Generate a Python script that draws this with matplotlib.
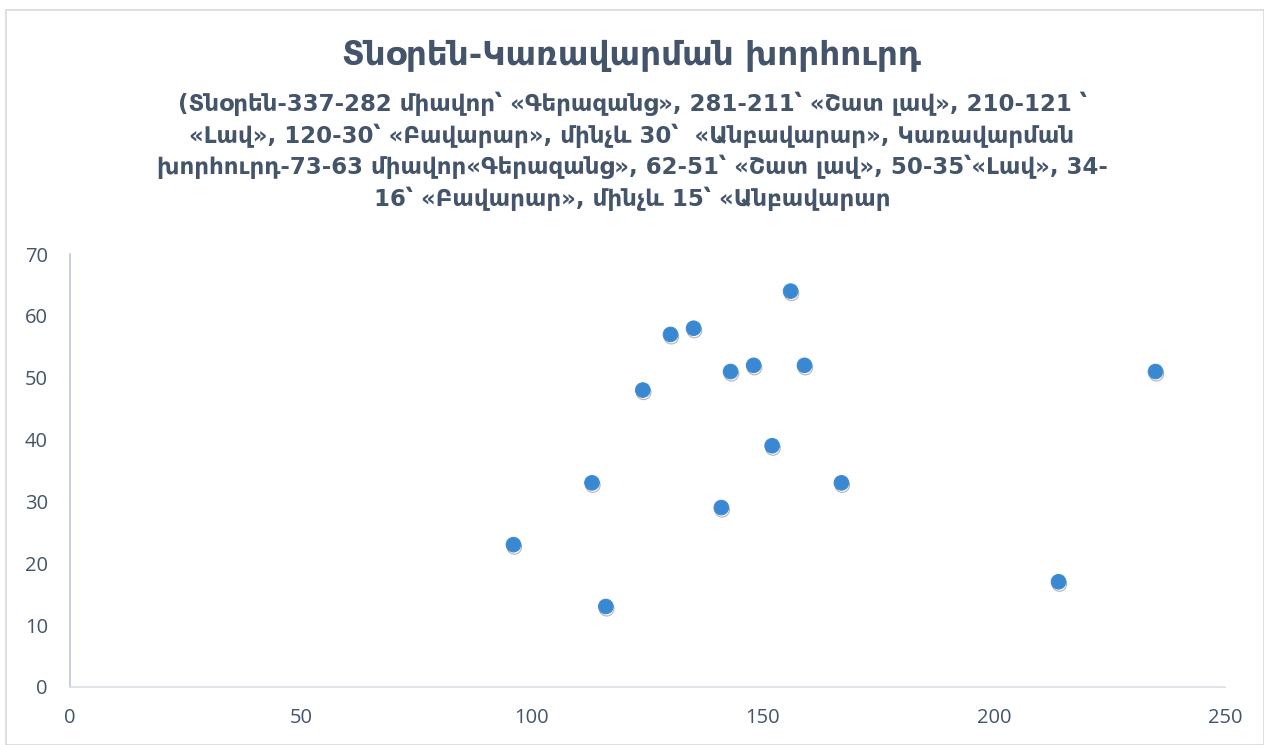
import matplotlib.pyplot as plt
import matplotlib.patheffects as pe
from matplotlib.patches import Rectangle

# scores: x = director score, y = management score
director_score = [96, 113, 116, 124, 130, 135, 141, 143, 148, 152, 156, 159, 167, 214, 235]
management_score = [23, 33, 13, 48, 57, 58, 29, 51, 52, 39, 64, 52, 33, 17, 51]

x_ticks = [0, 50, 100, 150, 200, 250]
y_ticks = [0, 10, 20, 30, 40, 50, 60, 70]

title = "Տնօրեն-Կառավարման խորհուրդ"
subtitle = ("(Տնօրեն-337-282 միավոր՝ «Գերազանց», 281-211՝ «Շատ լավ», 210-121 ՝\n"
            "«Լավ», 120-30՝ «Բավարար», մինչև 30՝  «Անբավարար», Կառավարման\n"
            "խորհուրդ-73-63 միավոր«Գերազանց», 62-51՝ «Շատ լավ», 50-35՝«Լավ», 34-\n"
            "16՝ «Բավարար», մինչև 15՝ «Անբավարար")

text_color = "#44546A"
dot_color = "#3A87D2"

fig = plt.figure(figsize=(12.64, 7.45), dpi=100)
fig.patches.append(Rectangle((0.005, 0.0), 0.995, 0.987, transform=fig.transFigure,
                             fill=False, edgecolor="#D9D9D9", linewidth=1.2))

fig.text(0.5, 0.926, title, ha="center", va="center", fontsize=23.5, fontweight="bold",
         color=text_color, family=["DejaVu Sans"])
fig.text(0.5, 0.797, subtitle, ha="center", va="center", fontsize=16.5, fontweight="bold",
         color=text_color, family=["DejaVu Sans"], linespacing=1.38)

ax = fig.add_axes([0.0554, 0.078, 0.9136, 0.581])
ax.plot(director_score, management_score, linestyle="none", marker="o", markersize=10.5,
        color=dot_color, markeredgecolor="#3F8ED6", markeredgewidth=0.8,
        path_effects=[pe.SimpleLineShadow(offset=(0.6, -1.6), shadow_color="#444444", alpha=0.4),
                      pe.Normal()])

ax.set_xlim(0, 250)
ax.set_ylim(0, 70)
ax.set_xticks(x_ticks)
ax.set_yticks(y_ticks)
ax.tick_params(length=0, labelsize=14.5, colors=text_color)
ax.tick_params(axis="y", pad=16)
ax.tick_params(axis="x", pad=15)
for lab in ax.get_xticklabels() + ax.get_yticklabels():
    lab.set_family("Open Sans")

ax.spines["top"].set_visible(False)
ax.spines["right"].set_visible(False)
ax.spines["left"].set_color("#BCC6DA")
ax.spines["left"].set_linewidth(1.2)
ax.spines["bottom"].set_color("#D9DEE6")
ax.spines["bottom"].set_linewidth(1.2)

fig.savefig("out.png", dpi=100)
